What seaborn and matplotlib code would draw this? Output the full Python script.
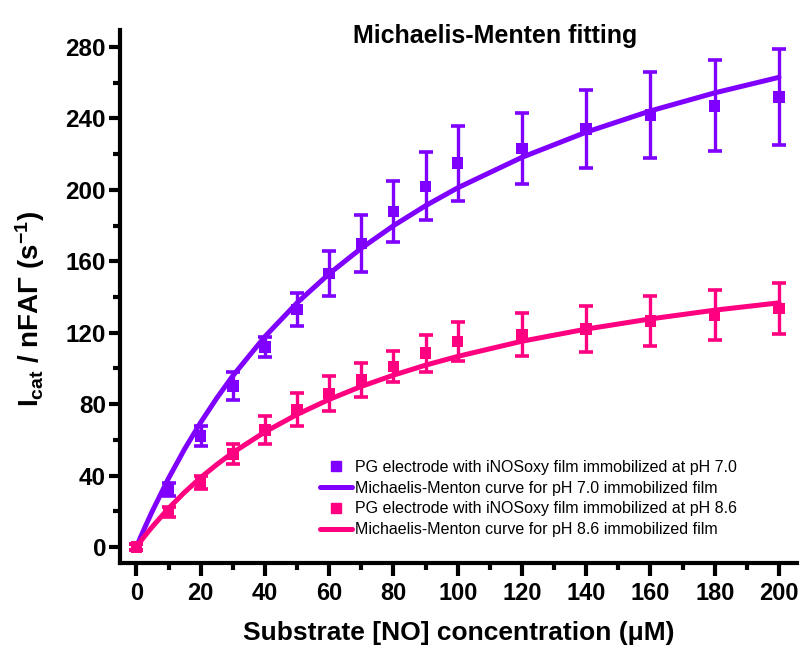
import matplotlib
matplotlib.use("Agg")
import matplotlib.pyplot as plt
from matplotlib.lines import Line2D
from matplotlib.ticker import MultipleLocator
import seaborn as sns

# ---- data ----
conc = [0, 10, 20, 30, 40, 50, 60, 70, 80, 90, 100, 120, 140, 160, 180, 200]
ph70 = [0, 32, 62, 90, 112, 133, 153, 170, 188, 202, 215, 223, 234, 242, 247, 252]
ph70_err = [1.5, 3.7, 5.6, 7.7, 5.5, 9, 12.5, 16, 17, 19, 21, 20, 22, 24, 25.5, 27]
ph86 = [0, 19.5, 36, 52, 65.5, 77, 86, 93.5, 101, 108.5, 115, 119, 122, 126.5, 130, 133.5]
ph86_err = [1.5, 3, 3.6, 5.4, 7.8, 9.4, 9.6, 9.6, 8.5, 10.4, 11, 12, 13, 14, 14, 14.5]

fit_x = [0, 2.5, 5, 10, 15, 20, 25, 30, 40, 50, 60, 70, 80, 90, 100, 120, 140, 160, 180, 200]
fit70 = [0, 10.4, 20.2, 38.4, 54.8, 69.7, 83.3, 95.8, 117.8, 136.7, 153.0, 167.3, 179.9,
         191.1, 201.1, 218.2, 232.3, 244.2, 254.3, 263.0]
fit86 = [0, 5.9, 11.4, 21.6, 30.6, 38.8, 46.1, 52.8, 64.4, 74.2, 82.6, 89.9, 96.2,
         101.8, 106.7, 115.2, 122.0, 127.7, 132.6, 136.7]

labels = ["PG electrode with iNOSoxy film immobilized at pH 7.0",
          "Michaelis-Menton curve for pH 7.0 immobilized film",
          "PG electrode with iNOSoxy film immobilized at pH 8.6",
          "Michaelis-Menton curve for pH 8.6 immobilized film"]
title = "Michaelis-Menten fitting"
xlabel = "Substrate [NO] concentration (\u03bcM)"
ylabel = "I$_{\\mathbf{cat}}$ / nFA\u0393 (s$^{\\mathbf{-1}}$)"

C70 = "#7F00FF"
C86 = "#FF0080"

sns.set_style("ticks")
plt.rcParams["font.family"] = ["Liberation Sans", "DejaVu Sans"]
plt.rcParams["mathtext.fontset"] = "custom"
plt.rcParams["mathtext.rm"] = "Liberation Sans:bold"
plt.rcParams["mathtext.bf"] = "Liberation Sans:bold"
plt.rcParams["mathtext.it"] = "Liberation Sans:bold"
for k in ["text.color", "axes.labelcolor", "xtick.color", "ytick.color", "axes.edgecolor"]:
    plt.rcParams[k] = "black"

fig = plt.figure(figsize=(8.04, 6.58), dpi=100)
ax = fig.add_axes([120/804, 95/658, 677/804, 533/658])

# error bars
ax.errorbar(conc, ph70, yerr=ph70_err, fmt="none", ecolor=C70, elinewidth=2.4,
            capsize=5, capthick=2.6, zorder=2)
ax.errorbar(conc, ph86, yerr=ph86_err, fmt="none", ecolor=C86, elinewidth=2.4,
            capsize=5, capthick=2.6, zorder=2)

# fitted curves
sns.lineplot(x=fit_x, y=fit70, ax=ax, color=C70, lw=3.6, zorder=3)
sns.lineplot(x=fit_x, y=fit86, ax=ax, color=C86, lw=3.6, zorder=3)

# data points
sns.scatterplot(x=conc, y=ph70, ax=ax, color=C70, marker="s", s=68,
                edgecolor="none", zorder=4)
sns.scatterplot(x=conc, y=ph86, ax=ax, color=C86, marker="s", s=68,
                edgecolor="none", zorder=4)

ax.set_xlim(-5.1, 205.6)
ax.set_ylim(-9.0, 289.5)
ax.xaxis.set_major_locator(MultipleLocator(20))
ax.xaxis.set_minor_locator(MultipleLocator(10))
ax.yaxis.set_major_locator(MultipleLocator(40))
ax.yaxis.set_minor_locator(MultipleLocator(20))

for s in ["top", "right"]:
    ax.spines[s].set_visible(False)
for s in ["left", "bottom"]:
    ax.spines[s].set_linewidth(3)
    ax.spines[s].set_color("black")

ax.tick_params(axis="both", which="both", width=3, color="black", labelcolor="black")
ax.tick_params(axis="x", which="major", length=9, pad=5)
ax.tick_params(axis="x", which="minor", length=5)
ax.tick_params(axis="y", which="major", length=8, pad=2)
ax.tick_params(axis="y", which="minor", length=5)

for t in ax.get_yticklabels():
    t.set_fontsize(17.5)
    t.set_fontweight("bold")
for t in ax.get_xticklabels():
    t.set_fontsize(17)
    t.set_fontweight("bold")

ax.set_xlabel(xlabel, fontsize=19, fontweight="bold", labelpad=11)
ax.set_ylabel(ylabel, fontsize=20, fontweight="bold")
ax.yaxis.set_label_coords(-0.108, 0.477)

fig.text(495.5/804, 1 - 43/658, title, ha="center", va="baseline",
         fontsize=18, fontweight="bold")

handles = [Line2D([], [], ls="none", marker="s", ms=7.5, color=C70),
           Line2D([], [], color=C70, lw=3.6),
           Line2D([], [], ls="none", marker="s", ms=7.5, color=C86),
           Line2D([], [], color=C86, lw=3.6)]
leg = ax.legend(handles, labels, loc="upper left",
                bbox_to_anchor=(320/804, 1 - 460/658), bbox_transform=fig.transFigure,
                frameon=False, fontsize=11.5, handlelength=2.0, handletextpad=0.2,
                labelspacing=0.36, borderpad=0, borderaxespad=0)

fig.savefig("out.png", dpi=100)
